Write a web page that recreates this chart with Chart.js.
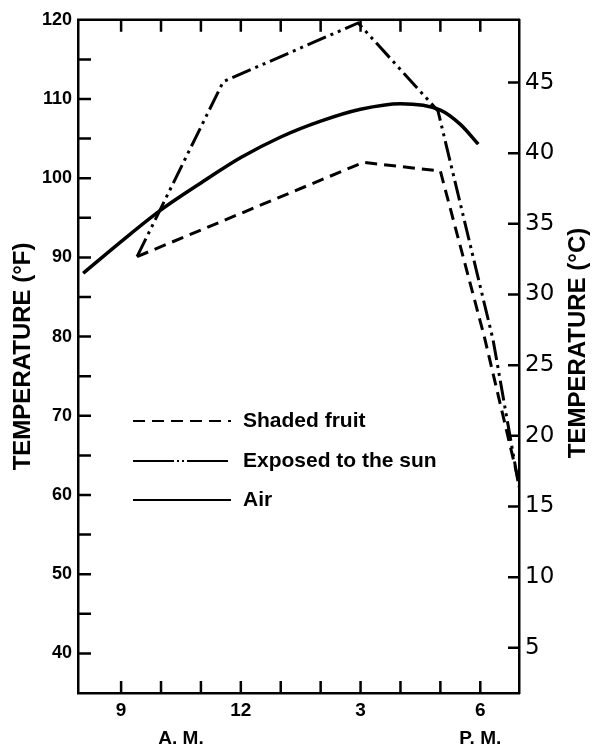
<!DOCTYPE html>
<html>
<head>
<meta charset="utf-8">
<script src="https://cdn.jsdelivr.net/npm/chart.js@4.4.1/dist/chart.umd.min.js"></script>
<style>
html,body{margin:0;padding:0;background:#fff;}
#wrap{width:592px;height:748px;position:relative;}
</style>
</head>
<body>
<div id="wrap"><canvas id="c" width="592" height="748"></canvas></div>
<script>
// ---- data (hours of day, 24h clock; temperatures in °F) ----
const seriesLabels = ['Shaded fruit', 'Exposed to the sun', 'Air'];

const shadedHours  = [9.4, 15.07, 17.0, 18.1, 18.97];
const shadedTempsF = [90.1, 102.0, 100.9, 80.0, 61.5];

const exposedHours  = [9.4, 11.56, 14.94, 16.94, 18.32, 18.97];
const exposedTempsF = [90.1, 112.2, 119.6, 108.5, 79.6, 61.0];

const airHours  = [8.05, 9, 10, 11, 12, 13, 14, 15, 16, 17, 17.5, 17.95];
const airTempsF = [88.0, 92.0, 96.0, 99.4, 102.6, 105.2, 107.2, 108.7, 109.4, 108.6, 106.8, 104.3];

// tick marks / labels
const hourTickValues = [9, 10, 11, 12, 13, 14, 15, 16, 17, 18];
const hourLabelValues = [9, 10.5, 12, 15, 18];
const hourLabelText = [['9'], ['', 'A. M.'], ['12'], ['3'], ['6', 'P. M.']];
const fTickValues = [40, 45, 50, 55, 60, 65, 70, 75, 80, 85, 90, 95, 100, 105, 110, 115];
const fLabelValues = [40, 50, 60, 70, 80, 90, 100, 110, 120];
const cLabelValues = [5, 10, 15, 20, 25, 30, 35, 40, 45];

const toPoints = (xs, ys) => xs.map((x, i) => ({ x: x, y: ys[i] }));

const framePlugin = {
  id: 'frame',
  afterDatasetsDraw(chart) {
    const ctx = chart.ctx;
    const a = chart.chartArea;
    const sx = chart.scales.x, sy = chart.scales.y, sc = chart.scales.yC;
    ctx.save();
    ctx.strokeStyle = '#000';
    ctx.lineWidth = 2.5;
    ctx.lineCap = 'butt';
    ctx.beginPath();
    // top border
    ctx.moveTo(a.left - 1, a.top); ctx.lineTo(a.right + 1, a.top);
    // inward x ticks (bottom and top)
    hourTickValues.forEach(v => {
      const px = sx.getPixelForValue(v);
      ctx.moveTo(px, a.bottom); ctx.lineTo(px, a.bottom - 12);
      ctx.moveTo(px, a.top); ctx.lineTo(px, a.top + 12);
    });
    // inward left ticks
    fTickValues.forEach(v => {
      const py = sy.getPixelForValue(v);
      ctx.moveTo(a.left, py); ctx.lineTo(a.left + 13, py);
    });
    // inward right ticks
    cLabelValues.forEach(v => {
      const py = sc.getPixelForValue(v);
      ctx.moveTo(a.right, py); ctx.lineTo(a.right - 11, py);
    });
    ctx.stroke();

    // right axis title (reads bottom to top)
    ctx.fillStyle = '#000';
    ctx.font = 'bold 24px "Liberation Sans", Arial, sans-serif';
    ctx.textAlign = 'center';
    ctx.textBaseline = 'middle';
    ctx.translate(578, 343);
    ctx.rotate(-Math.PI / 2);
    ctx.fillText('TEMPERATURE (°C)', 0, 0);
    ctx.restore();

    // inner legend
    const lg = chart.options.plugins.frame;
    ctx.save();
    ctx.strokeStyle = '#000';
    ctx.fillStyle = '#000';
    ctx.font = 'bold 21px "Liberation Sans", Arial, sans-serif';
    ctx.textAlign = 'left';
    ctx.textBaseline = 'middle';
    chart.data.datasets.forEach((ds, i) => {
      const y = lg.rowY[i];
      ctx.beginPath();
      ctx.lineWidth = 2;
      ctx.setLineDash(lg.dashes[i]);
      ctx.moveTo(lg.lineStart, y);
      ctx.lineTo(lg.lineEnd, y);
      ctx.stroke();
      ctx.setLineDash([]);
      ctx.fillText(ds.label, lg.textX, y);
    });
    ctx.restore();
  }
};

new Chart(document.getElementById('c'), {
  type: 'line',
  data: {
    datasets: [
      {
        label: seriesLabels[0],
        data: toPoints(shadedHours, shadedTempsF),
        borderColor: '#000', borderWidth: 3, borderDash: [12, 7],
        pointRadius: 0, tension: 0, yAxisID: 'y', fill: false
      },
      {
        label: seriesLabels[1],
        data: toPoints(exposedHours, exposedTempsF),
        borderColor: '#000', borderWidth: 3, borderDash: [20, 5, 3, 5, 3, 5],
        pointRadius: 0, tension: 0, yAxisID: 'y', fill: false
      },
      {
        label: seriesLabels[2],
        data: toPoints(airHours, airTempsF),
        borderColor: '#000', borderWidth: 3.5,
        cubicInterpolationMode: 'monotone',
        pointRadius: 0, yAxisID: 'y', fill: false
      }
    ]
  },
  options: {
    responsive: false,
    animation: false,
    devicePixelRatio: 1,
    layout: { padding: { top: 18, left: 0, right: 0, bottom: 0 } },
    plugins: {
      legend: { display: false },
      tooltip: { enabled: false },
      frame: {
        lineStart: 133, lineEnd: 231, textX: 243,
        rowY: [421, 461, 500],
        dashes: [[12, 7], [41, 3, 2, 3, 2, 3, 41], []]
      }
    },
    scales: {
      x: {
        type: 'linear', position: 'bottom',
        min: 7.92, max: 18.97,
        afterFit: s => { s.height = 55; },
        afterBuildTicks: s => { s.ticks = hourLabelValues.map(v => ({ value: v })); },
        grid: { display: false, drawTicks: false },
        border: { display: true, color: '#000', width: 2.5 },
        ticks: {
          autoSkip: false, maxRotation: 0, padding: 4,
          color: '#000',
          font: { family: '"Liberation Sans", Arial, sans-serif', size: 19, weight: 'bold', lineHeight: 1.45 },
          callback: (v) => hourLabelText[hourLabelValues.indexOf(v)]
        }
      },
      y: {
        type: 'linear', position: 'left',
        min: 35, max: 120,
        afterFit: s => { s.width = 78; },
        afterBuildTicks: s => { s.ticks = fLabelValues.map(v => ({ value: v })); },
        grid: { display: false, drawTicks: false },
        border: { display: true, color: '#000', width: 2.5 },
        ticks: {
          padding: 6, color: '#000',
          font: { family: '"Liberation Sans", Arial, sans-serif', size: 18, weight: 'bold' },
          callback: v => String(v)
        },
        title: {
          display: true, text: 'TEMPERATURE (°F)', color: '#000',
          font: { family: '"Liberation Sans", Arial, sans-serif', size: 24, weight: 'bold', lineHeight: 1.2 },
          padding: { top: 9, bottom: 0 }
        }
      },
      yC: {
        type: 'linear', position: 'right',
        min: 1.8, max: 49.44,
        afterFit: s => { s.width = 73; },
        afterBuildTicks: s => { s.ticks = cLabelValues.map(v => ({ value: v })); },
        grid: { display: false, drawTicks: false },
        border: { display: true, color: '#000', width: 2.5 },
        ticks: {
          padding: 6, color: '#000',
          font: { family: '"DejaVu Sans", sans-serif', size: 23, weight: 'normal' },
          callback: v => String(v)
        }
      }
    }
  },
  plugins: [framePlugin]
});
</script>
</body>
</html>
